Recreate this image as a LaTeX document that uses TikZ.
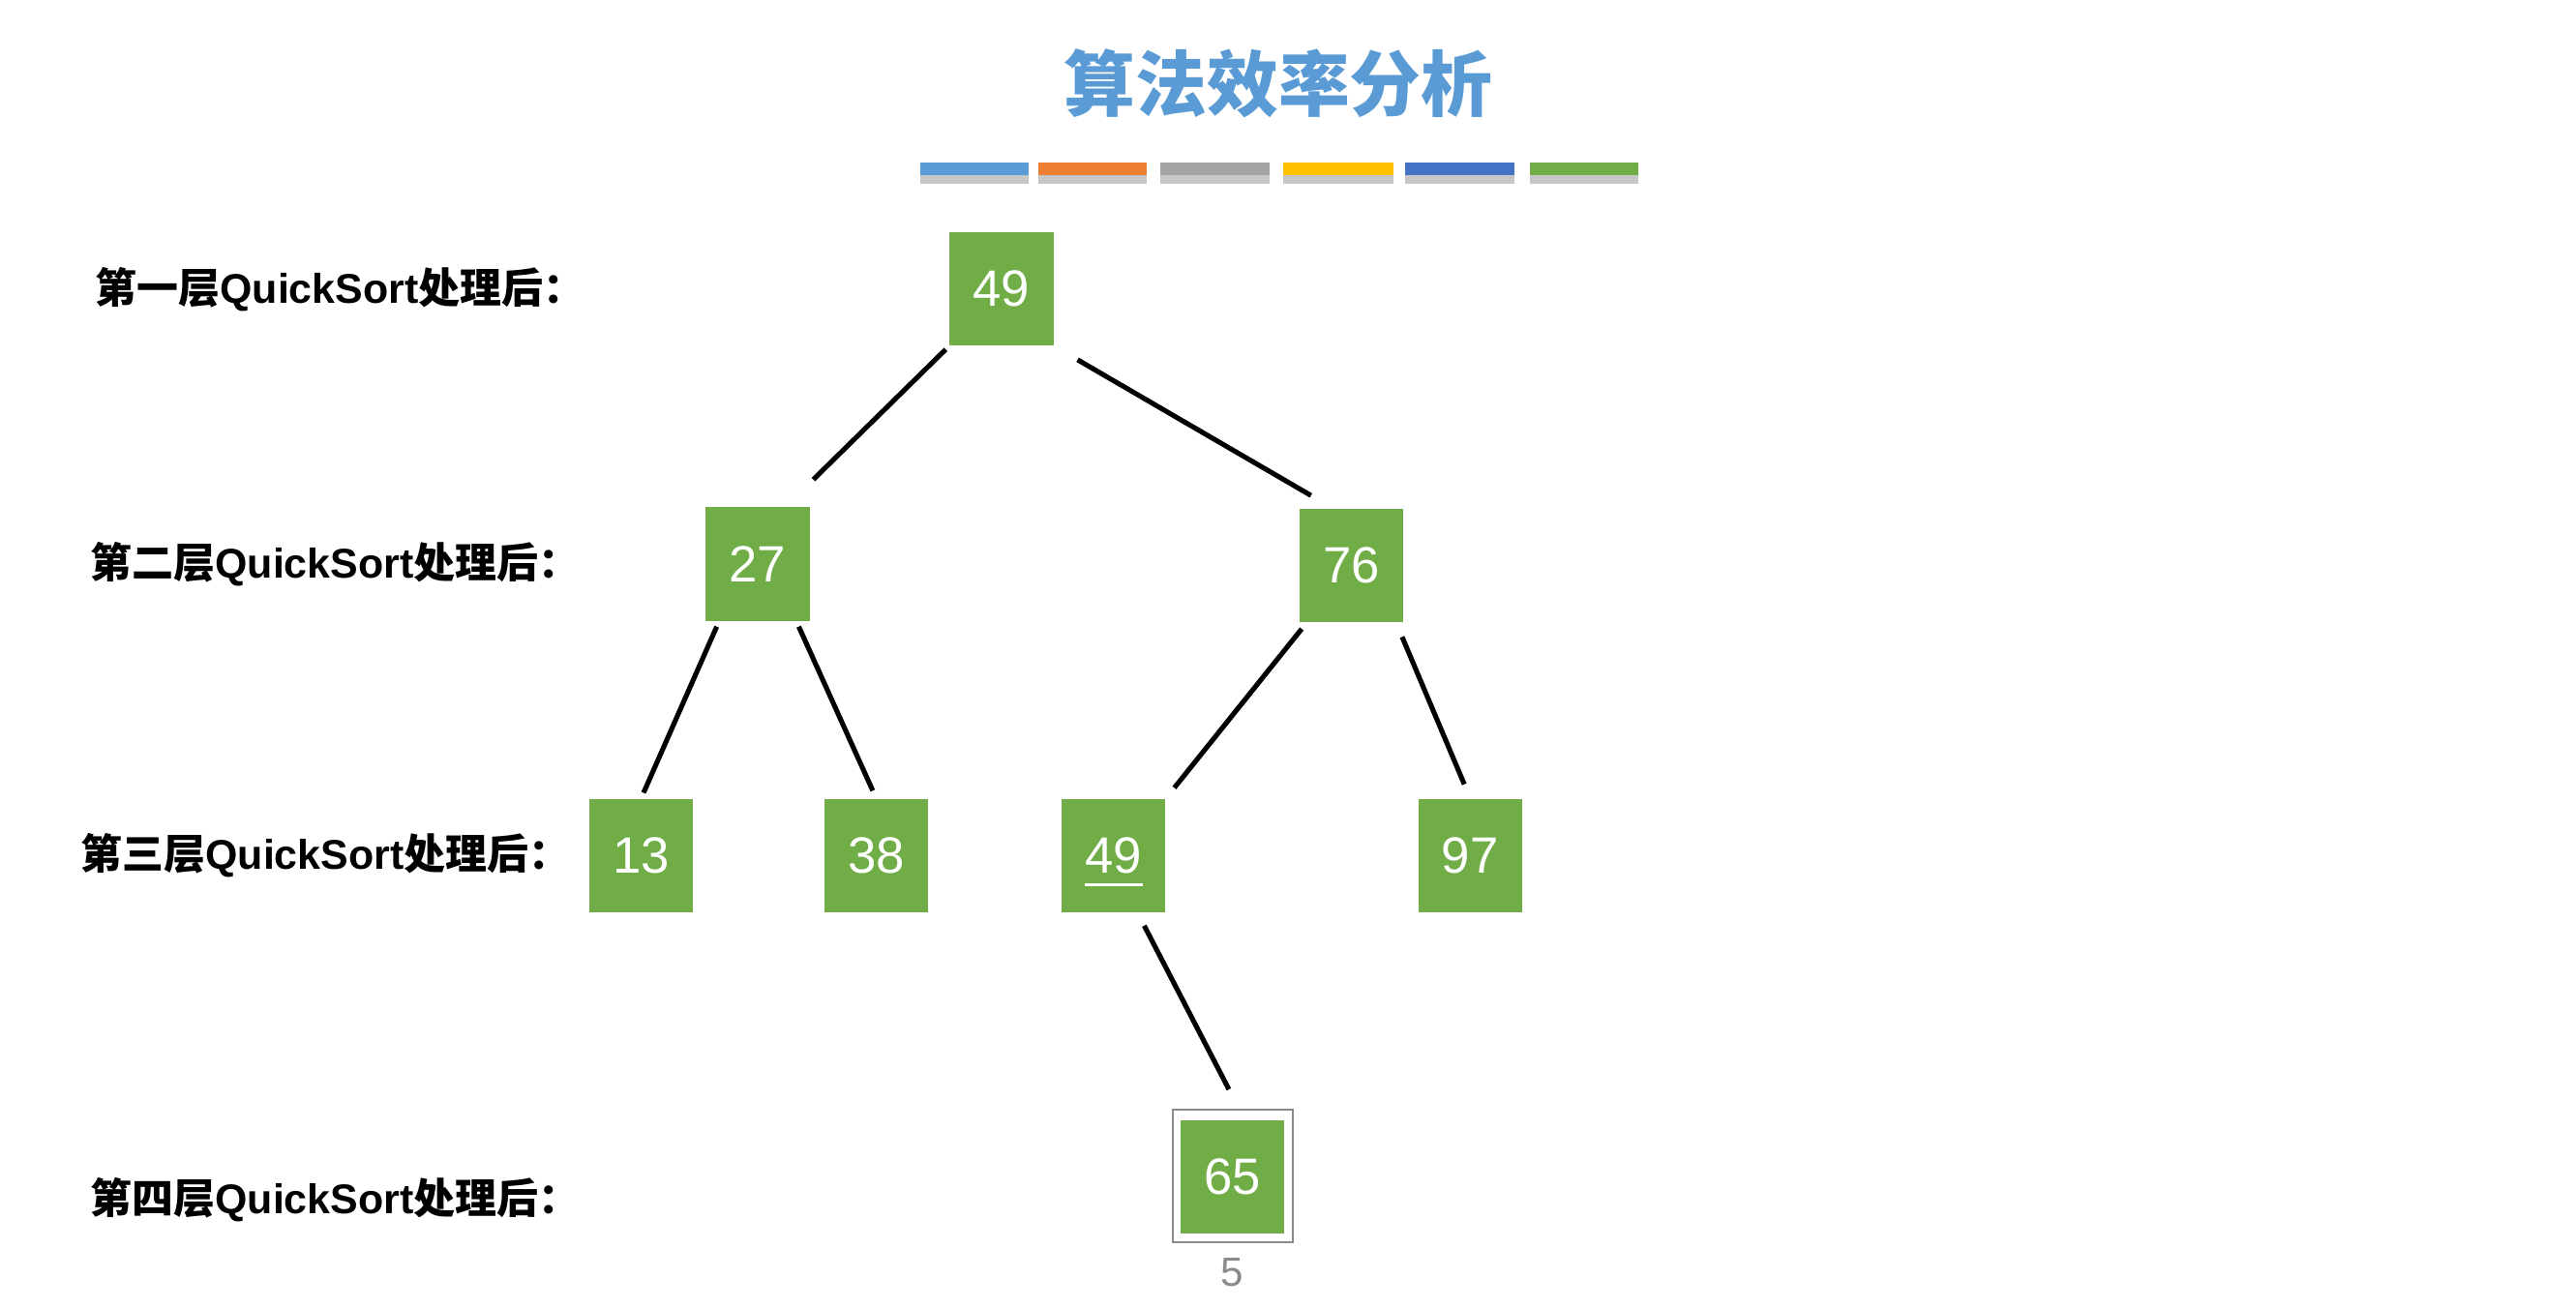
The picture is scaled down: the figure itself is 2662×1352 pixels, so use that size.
\documentclass[tikz,border=0pt]{standalone}
\usepackage{fontspec}
\setmainfont{Liberation Sans}
\newfontfamily\cjk{Noto Sans CJK SC}
\usetikzlibrary{shadows}

\definecolor{nodegreen}{HTML}{70AD47}
\definecolor{titleblue}{HTML}{5B9BD5}
\definecolor{barorange}{HTML}{ED7D31}
\definecolor{bargray}{HTML}{A5A5A5}
\definecolor{baryellow}{HTML}{FFC000}
\definecolor{bardblue}{HTML}{4472C4}
\definecolor{framegray}{HTML}{8A8A8A}

\newcommand{\qsline}[1]{{\cjk 第#1层}QuickSort{\cjk 处理后：}}

\begin{document}
\begin{tikzpicture}[x=0.01cm, y=-0.01cm,
	numbox/.style={rectangle, fill=nodegreen, text=white, inner sep=0pt,
	minimum width=1.07cm, minimum height=1.17cm, font=\fontsize{15}{18}\selectfont},
	lvlstyle/.style={anchor=west, inner sep=0pt, font=\bfseries\fontsize{12.2}{15}\selectfont},
	edge/.style={line width=1.45pt},
	barstyle/.style={drop shadow={opacity=0.45, shadow xshift=0pt, shadow yshift=-2.5pt}}
	]
	\useasboundingbox (0,0) rectangle (2662,1352);

	% title and colour bars
	\node[text=titleblue, font=\cjk\bfseries\fontsize{21}{25}\selectfont] (title) at (1321,86) {算法效率分析};
	\fill[titleblue, barstyle] (951,168) rectangle (1063,181);
	\fill[barorange, barstyle] (1073,168) rectangle (1185,181);
	\fill[bargray, barstyle] (1199,168) rectangle (1312,181);
	\fill[baryellow, barstyle] (1326,168) rectangle (1440,181);
	\fill[bardblue, barstyle] (1452,168) rectangle (1565,181);
	\fill[nodegreen, barstyle] (1581,168) rectangle (1693,181);

	% level labels
	\node[lvlstyle] (l1) at (98,299) {\qsline{一}};
	\node[lvlstyle] (l2) at (93,583) {\qsline{二}};
	\node[lvlstyle] (l3) at (83,884) {\qsline{三}};
	\node[lvlstyle] (l4) at (93,1240) {\qsline{四}};

	% tree
	\node[numbox] (n49a) at (1035,298.5) {49};
	\node[numbox] (n27) at (783,583) {27};
	\node[numbox] (n76) at (1396.5,584.5) {76};
	\node[numbox] (n13) at (662.5,884.5) {13};
	\node[numbox] (n38) at (905.5,884.5) {38};
	\node[numbox] (n49b) at (1150.5,884.5) {49};
	\node[numbox] (n97) at (1519.3,884.5) {97};
	\node[numbox] (n65) at (1273.5,1216.5) {65};
	\node[draw=framegray, line width=0.6pt, minimum width=1.24cm, minimum height=1.37cm] (n65frame) at (1274,1215.5) {};
	\draw[white, line width=0.8pt] (n49b.base) ++(-30,12) -- ++(60,0);

	\draw[edge, shorten <=1.4pt, shorten >=11.4pt] (n49a.south west) to (n27.64);
	\draw[edge, shorten <=8pt, shorten >=7.4pt] (n49a.south east) to (n76.108);
	\draw[edge, shorten <=1.7pt, shorten >=1.8pt] (n27.236) to (n13.north);
	\draw[edge, shorten <=1.7pt, shorten >=2.5pt] (n27.304) to (n38.north);
	\draw[edge, shorten <=2.3pt, shorten >=4pt] (n76.232) to (n49b.north east);
	\draw[edge, shorten <=4.5pt, shorten >=4.5pt] (n76.308) to (n97.north);
	\draw[edge, shorten <=4.2pt, shorten >=10pt] (n49b.293) to (n65.78);

	% page number
	\node[text=framegray, font=\fontsize{12}{14}\selectfont] (pg) at (1273,1315) {5};
\end{tikzpicture}
\end{document}
